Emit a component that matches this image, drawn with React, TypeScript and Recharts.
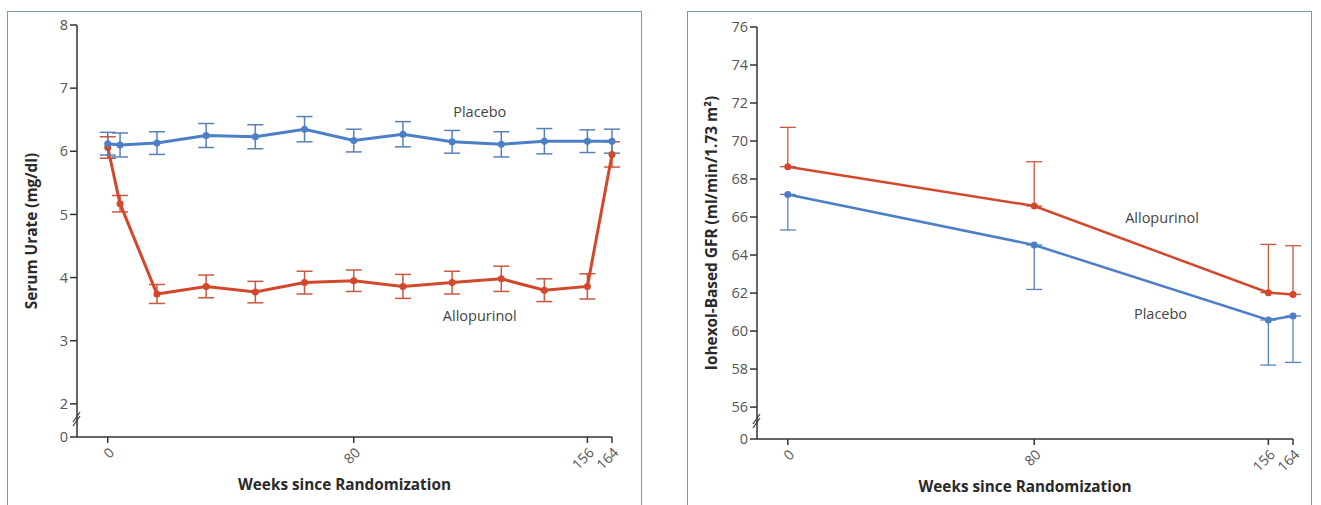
import React from "react";
import { LineChart, Line, XAxis, YAxis, ErrorBar, ReferenceDot } from "recharts";

// serum urate panel
const urateWeeks = [0, 4, 16, 32, 48, 64, 80, 96, 112, 128, 142, 156, 164];
const uratePlacebo = [6.12, 6.1, 6.13, 6.25, 6.23, 6.35, 6.17, 6.27, 6.15, 6.11, 6.16, 6.16, 6.16];
const uratePlaceboErr = [0.18, 0.19, 0.18, 0.19, 0.19, 0.2, 0.18, 0.2, 0.18, 0.2, 0.2, 0.18, 0.19];
const urateAllo = [6.06, 5.17, 3.74, 3.86, 3.77, 3.92, 3.95, 3.86, 3.92, 3.98, 3.8, 3.86, 5.95];
const urateAlloErr = [0.17, 0.13, 0.15, 0.18, 0.17, 0.18, 0.17, 0.19, 0.18, 0.2, 0.18, 0.2, 0.2];
const urateTicks = [2, 3, 4, 5, 6, 7, 8];
const urateBreak = 1.475; // drawn as "0" below the axis break

// iohexol GFR panel
const gfrWeeks = [0, 80, 156, 164];
const gfrAllo = [68.65, 66.58, 62.02, 61.93];
const gfrAlloErr = [2.07, 2.33, 2.54, 2.56];
const gfrPlacebo = [67.19, 64.53, 60.58, 60.79];
const gfrPlaceboErr = [1.87, 2.34, 2.37, 2.44];
const gfrTicks = [56, 58, 60, 62, 64, 66, 68, 70, 72, 74, 76];
const gfrBreak = 54.32;

const weekTicks = [0, 80, 156, 164];

const urateData = urateWeeks.map((w, i) => ({
  week: w,
  placebo: uratePlacebo[i],
  placeboErr: uratePlaceboErr[i],
  allo: urateAllo[i],
  alloErr: urateAlloErr[i],
}));

// GFR error bars are one-sided: placebo down, allopurinol up
const gfrData = gfrWeeks.map((w, i) => ({
  week: w,
  placebo: gfrPlacebo[i],
  placeboErr: [gfrPlaceboErr[i], 0],
  allo: gfrAllo[i],
  alloErr: [0, gfrAlloErr[i]],
}));

const FONT = "'Open Sans', 'Noto Sans', sans-serif";
const BLUE = "#4c7fc6";
const RED = "#d2482c";
const BLUE_ERR = "#5a80b8";
const RED_ERR = "#c95840";
const TICK = "#555";
const AXIS = "#333";
const TITLE = "#2a2a2a";

const makeYTick = (bottom: number) => (props: any) => {
  const { x, y, payload } = props;
  const isBreak = payload.value === bottom;
  const ax = x + 9;
  return (
    <g>
      <text x={x} y={y} dy="0.35em" textAnchor="end" fill={TICK} fontSize={14.5} fontFamily={FONT}>
        {isBreak ? "0" : payload.value}
      </text>
      {isBreak && (
        <g stroke={AXIS} strokeWidth={1.2}>
          <line x1={ax - 4} y1={y - 11} x2={ax + 3} y2={y - 21} />
          <line x1={ax - 4} y1={y - 15} x2={ax + 3} y2={y - 25} />
        </g>
      )}
    </g>
  );
};

const WeekTick = (props: any) => {
  const { x, y, payload } = props;
  return (
    <text
      transform={`translate(${x + 4},${y + 5}) rotate(-45)`}
      dy="0.35em"
      textAnchor="end"
      fill={TICK}
      fontSize={14}
      fontFamily={FONT}
    >
      {payload.value}
    </text>
  );
};

const YTitle = (props: any) => {
  const { viewBox, text } = props;
  const cy = viewBox.y + viewBox.height / 2;
  return (
    <text
      transform={`translate(32,${cy}) rotate(-90)`}
      dy="0.35em"
      textAnchor="middle"
      fill={TITLE}
      fontSize={15.4}
      fontWeight={700}
      fontFamily={FONT}
    >
      {text}
    </text>
  );
};

const XTitle = (props: any) => {
  const { viewBox } = props;
  return (
    <text
      x={viewBox.x + viewBox.width / 2}
      y={viewBox.y + 48}
      dy="0.35em"
      textAnchor="middle"
      fill={TITLE}
      fontSize={15.3}
      fontWeight={700}
      fontFamily={FONT}
    >
      Weeks since Randomization
    </text>
  );
};

const seriesLabel = (text: string) => ({
  value: text,
  position: "center" as const,
  fill: "#444",
  fontSize: 14.5,
  fontFamily: FONT,
});

const panel = (left: number, width: number) => ({
  position: "absolute" as const,
  left,
  top: 11,
  width,
  height: 520,
  border: "1.5px solid #7e94b8",
  boxSizing: "border-box" as const,
});

export default function App() {
  return (
    <div
      style={{
        position: "absolute",
        left: 0,
        top: 0,
        width: 1321,
        height: 505,
        overflow: "hidden",
        background: "#fff",
      }}
    >
      <div style={panel(7, 635)} />
      <div style={panel(687, 625)} />

      <div style={{ position: "absolute", left: 0, top: 0 }}>
        <LineChart width={660} height={505} data={urateData} margin={{ top: 25, right: 48, bottom: 0, left: 0 }}>
          <XAxis
            dataKey="week"
            type="number"
            domain={[-10, 164]}
            ticks={weekTicks}
            interval={0}
            height={68}
            tickSize={6}
            stroke={AXIS}
            strokeWidth={1.5}
            tick={<WeekTick />}
            label={<XTitle />}
          />
          <YAxis
            type="number"
            domain={[urateBreak, 8]}
            ticks={[urateBreak, ...urateTicks]}
            interval={0}
            width={77}
            tickSize={7}
            stroke={AXIS}
            strokeWidth={1.5}
            tick={makeYTick(urateBreak)}
            label={<YTitle text="Serum Urate (mg/dl)" />}
          />
          <Line
            dataKey="allo"
            stroke={RED}
            strokeWidth={3}
            dot={{ r: 3.5, fill: RED, stroke: RED, strokeWidth: 0 }}
            isAnimationActive={false}
          >
            <ErrorBar dataKey="alloErr" width={8} stroke={RED_ERR} strokeWidth={1.5} direction="y" />
          </Line>
          <Line
            dataKey="placebo"
            stroke={BLUE}
            strokeWidth={3}
            dot={{ r: 3.5, fill: BLUE, stroke: BLUE, strokeWidth: 0 }}
            isAnimationActive={false}
          >
            <ErrorBar dataKey="placeboErr" width={8} stroke={BLUE_ERR} strokeWidth={1.5} direction="y" />
          </Line>
          <ReferenceDot x={121} y={6.63} r={0} fill="none" stroke="none" label={seriesLabel("Placebo")} />
          <ReferenceDot x={121} y={3.4} r={0} fill="none" stroke="none" label={seriesLabel("Allopurinol")} />
        </LineChart>
      </div>

      <div style={{ position: "absolute", left: 680, top: 0 }}>
        <LineChart width={641} height={505} data={gfrData} margin={{ top: 27, right: 28, bottom: 0, left: 0 }}>
          <XAxis
            dataKey="week"
            type="number"
            domain={[-10, 164]}
            ticks={weekTicks}
            interval={0}
            height={66}
            tickSize={6}
            stroke={AXIS}
            strokeWidth={1.5}
            tick={<WeekTick />}
            label={<XTitle />}
          />
          <YAxis
            type="number"
            domain={[gfrBreak, 76]}
            ticks={[gfrBreak, ...gfrTicks]}
            interval={0}
            width={77}
            tickSize={7}
            stroke={AXIS}
            strokeWidth={1.5}
            tick={makeYTick(gfrBreak)}
            label={<YTitle text="Iohexol-Based GFR (ml/min/1.73 m²)" />}
          />
          <Line
            dataKey="allo"
            stroke={RED}
            strokeWidth={2.5}
            dot={{ r: 3.5, fill: RED, stroke: RED, strokeWidth: 0 }}
            isAnimationActive={false}
          >
            <ErrorBar dataKey="alloErr" width={8} stroke={RED_ERR} strokeWidth={1.3} direction="y" />
          </Line>
          <Line
            dataKey="placebo"
            stroke={BLUE}
            strokeWidth={2.5}
            dot={{ r: 3.5, fill: BLUE, stroke: BLUE, strokeWidth: 0 }}
            isAnimationActive={false}
          >
            <ErrorBar dataKey="placeboErr" width={8} stroke={BLUE_ERR} strokeWidth={1.3} direction="y" />
          </Line>
          <ReferenceDot x={121.5} y={65.95} r={0} fill="none" stroke="none" label={seriesLabel("Allopurinol")} />
          <ReferenceDot x={121} y={60.9} r={0} fill="none" stroke="none" label={seriesLabel("Placebo")} />
        </LineChart>
      </div>
    </div>
  );
}
